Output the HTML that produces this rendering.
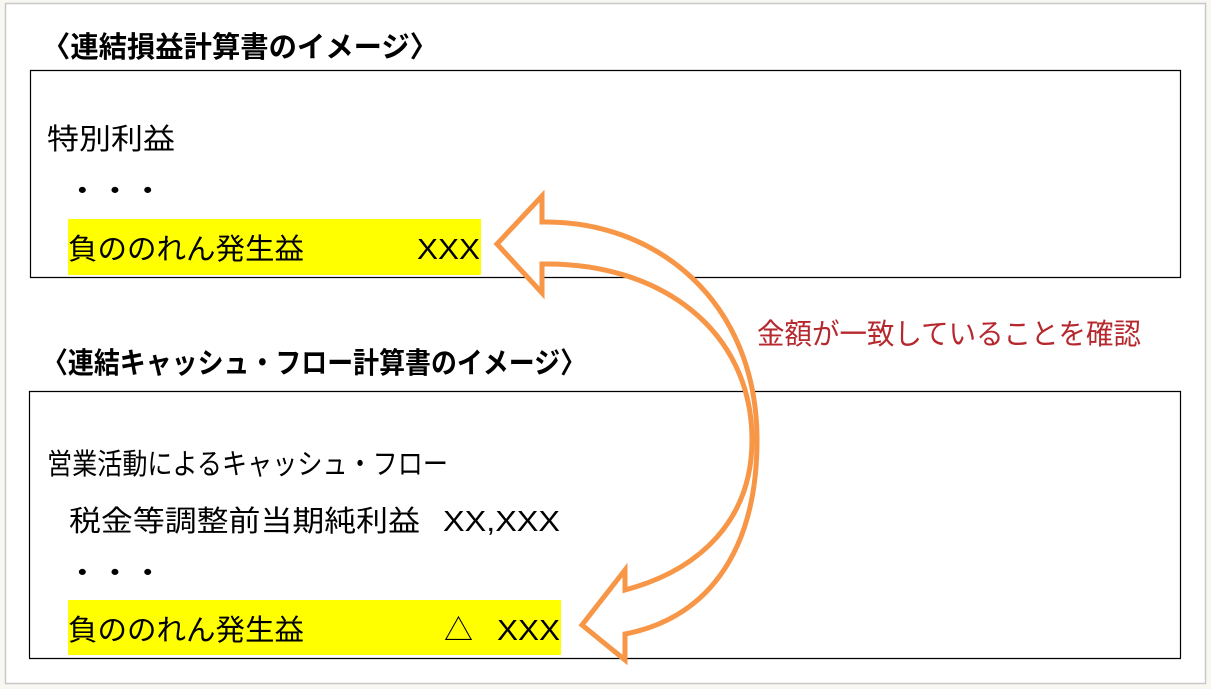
<!DOCTYPE html>
<html><head><meta charset="utf-8"><style>
html,body{margin:0;padding:0;background:#fff;}
svg{display:block;}
text{font-family:"Liberation Sans","Noto Sans CJK JP",sans-serif;font-size:29px;fill:#000;}
.b{font-weight:bold;}
</style></head><body>
<svg width="1211" height="689" viewBox="0 0 1211 689" xmlns="http://www.w3.org/2000/svg">
<rect x="0" y="0" width="1211" height="689" fill="#f8f7f2"/>
<rect x="5.5" y="3.5" width="1200" height="680" fill="#fff" stroke="#c8c8c8" stroke-width="1.5"/>
<text class="b" x="42" y="57" textLength="396" lengthAdjust="spacingAndGlyphs">〈連結損益計算書のイメージ〉</text>
<path d="M30.5 278 V70.5 H1180.5 V278" fill="none" stroke="#000" stroke-width="1.2"/>
<line x1="30" y1="277.5" x2="1181" y2="277.5" stroke="#000" stroke-width="1.2"/>
<text x="47" y="149" textLength="128" lengthAdjust="spacingAndGlyphs">特別利益</text>
<text x="66" y="201" textLength="98" lengthAdjust="spacingAndGlyphs">・・・</text>
<rect x="68" y="219" width="413" height="56" fill="#ff0"/>
<text x="68" y="259" textLength="236" lengthAdjust="spacingAndGlyphs">負ののれん発生益</text>
<text x="417" y="259" textLength="63" lengthAdjust="spacingAndGlyphs">XXX</text>
<text class="b" x="42" y="373" textLength="544" lengthAdjust="spacingAndGlyphs">〈連結キャッシュ・フロー計算書のイメージ〉</text>
<path d="M29.5 658 V391.5 H1180.5 V658" fill="none" stroke="#000" stroke-width="1.2"/>
<line x1="29" y1="658.5" x2="1181" y2="658.5" stroke="#000" stroke-width="1.2"/>
<text x="47" y="474" textLength="401" lengthAdjust="spacingAndGlyphs">営業活動によるキャッシュ・フロー</text>
<text x="69" y="531" textLength="351" lengthAdjust="spacingAndGlyphs">税金等調整前当期純利益</text>
<text x="443" y="531" textLength="117" lengthAdjust="spacingAndGlyphs">XX,XXX</text>
<text x="66" y="583" textLength="98" lengthAdjust="spacingAndGlyphs">・・・</text>
<rect x="68" y="600" width="493" height="55" fill="#ff0"/>
<text x="68" y="640" textLength="236" lengthAdjust="spacingAndGlyphs">負ののれん発生益</text>
<text x="444" y="640">△</text>
<text x="497" y="640" textLength="63" lengthAdjust="spacingAndGlyphs">XXX</text>
<text x="757" y="344" textLength="384" lengthAdjust="spacingAndGlyphs" style="fill:#b5282d">金額が一致していることを確認</text>
<path d="M497 244 L542 196 L542 222 C655 220 757 300 757 440 C757 560 700 620 625 634 L625 660 L582 625 L625 570 L625 590 C700 570 752 520 752 440 C752 330 660 262 542 264 L542 293 Z" fill="#fff" stroke="#f79646" stroke-width="5" stroke-linejoin="miter"/>
</svg>
</body></html>
